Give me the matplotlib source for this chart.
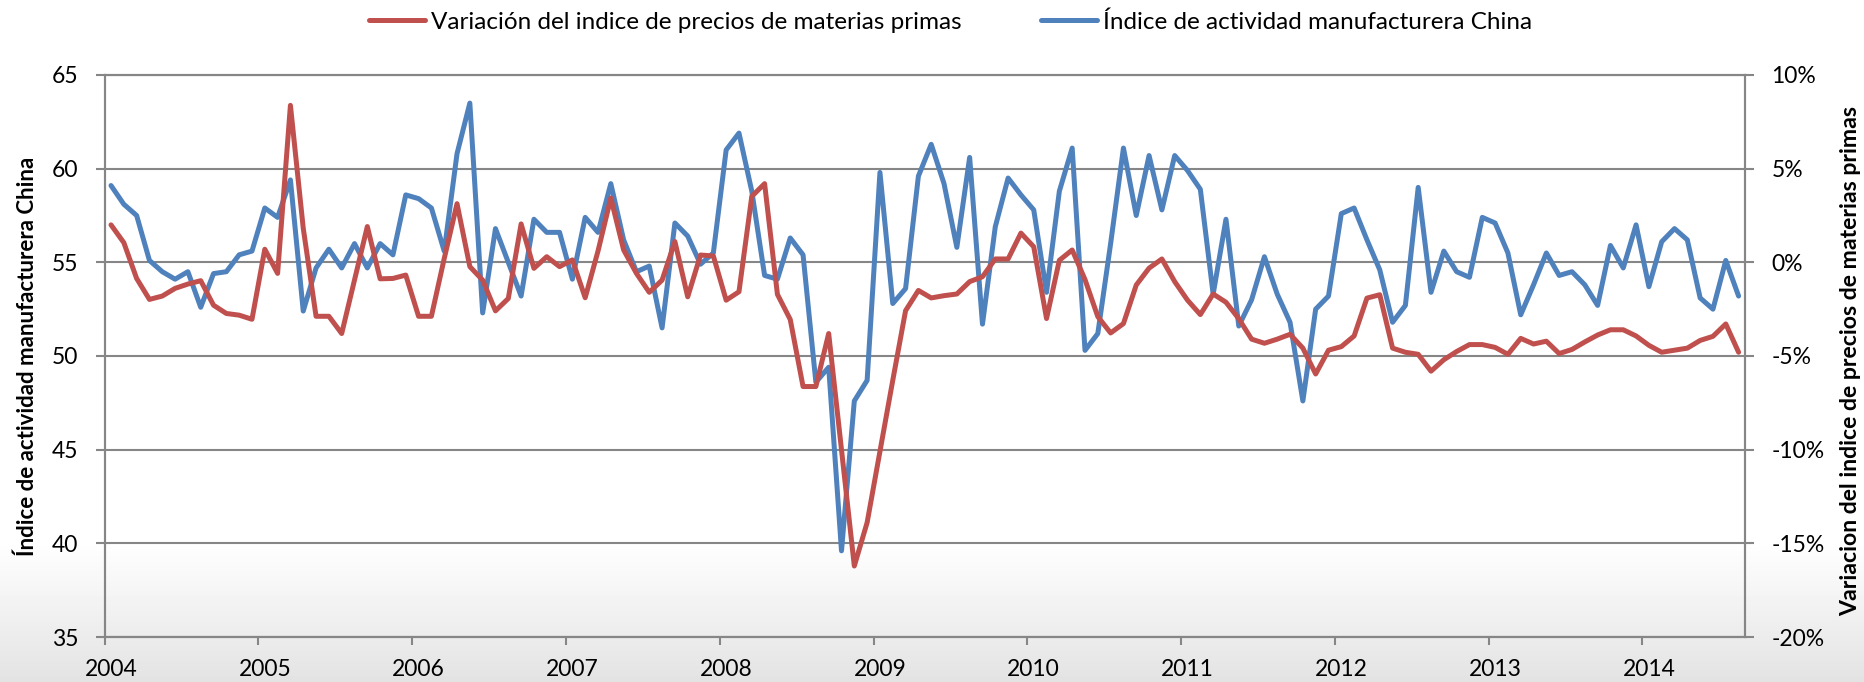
import numpy as np
import matplotlib.pyplot as plt

plt.rcParams['font.family'] = ['Lato', 'DejaVu Sans']

# datos mensuales, ene-2004 a ago-2014
years = [str(y) for y in range(2004, 2015)]

pmi_china = [
    59.1, 58.1, 57.5, 55.1, 54.5, 54.1, 54.5, 52.6, 54.4, 54.5, 55.4, 55.6,
    57.9, 57.4, 59.4, 52.4, 54.7, 55.7, 54.7, 56.0, 54.7, 56.0, 55.4, 58.6,
    58.4, 57.9, 55.6, 60.8, 63.5, 52.3, 56.8, 55.0, 53.2, 57.3, 56.6, 56.6,
    54.1, 57.4, 56.6, 59.2, 56.2, 54.5, 54.8, 51.5, 57.1, 56.4, 54.9, 55.5,
    61.0, 61.9, 58.8, 54.3, 54.1, 56.3, 55.4, 48.6, 49.4, 39.6, 47.6, 48.7,
    59.8, 52.8, 53.6, 59.6, 61.3, 59.2, 55.8, 60.6, 51.7, 56.9, 59.5, 58.6,
    57.8, 53.4, 58.8, 61.1, 50.3, 51.2, 56.0, 61.1, 57.5, 60.7, 57.8, 60.7,
    59.9, 58.9, 53.3, 57.3, 51.6, 53.0, 55.3, 53.3, 51.8, 47.6, 52.5, 53.2,
    57.6, 57.9, 56.2, 54.6, 51.8, 52.7, 59.0, 53.4, 55.6, 54.5, 54.2, 57.4,
    57.1, 55.5, 52.2, 53.8, 55.5, 54.3, 54.5, 53.8, 52.7, 55.9, 54.7, 57.0,
    53.7, 56.1, 56.8, 56.2, 53.1, 52.5, 55.1, 53.2,
]

commodity_var = [
    2.0, 1.05, -0.86, -1.98, -1.8, -1.39, -1.16, -0.98, -2.29, -2.73, -2.82, -3.04,
    0.7, -0.59, 8.38, 1.82, -2.88, -2.88, -3.8, -0.95, 1.91, -0.88, -0.86, -0.68,
    -2.88, -2.88, 0.2, 3.13, -0.23, -0.95, -2.59, -1.93, 2.05, -0.32, 0.3, -0.23,
    0.13, -1.89, 0.6, 3.43, 0.66, -0.59, -1.6, -0.95, 1.11, -1.84, 0.39, 0.34,
    -2.02, -1.57, 3.52, 4.2, -1.71, -3.05, -6.63, -6.63, -3.8, -10.0, -16.21, -13.89,
    -10.1, -6.3, -2.58, -1.5, -1.9, -1.78, -1.69, -1.03, -0.77, 0.18, 0.18, 1.56,
    0.83, -3.0, 0.11, 0.66, -0.92, -2.9, -3.77, -3.27, -1.21, -0.31, 0.18, -1.03,
    -2.02, -2.79, -1.69, -2.13, -3.01, -4.1, -4.32, -4.1, -3.84, -4.58, -5.96, -4.69,
    -4.5, -3.93, -1.91, -1.73, -4.58, -4.8, -4.91, -5.81, -5.2, -4.76, -4.39, -4.39,
    -4.54, -4.91, -4.06, -4.36, -4.21, -4.87, -4.65, -4.25, -3.88, -3.6, -3.6, -3.93,
    -4.43, -4.8, -4.69, -4.58, -4.17, -3.95, -3.29, -4.8,
]

left_ticks = [35, 40, 45, 50, 55, 60, 65]
right_ticks = [-20, -15, -10, -5, 0, 5, 10]
right_labels = ['-20%', '-15%', '-10%', '-5%', '0%', '5%', '10%']

label_red = 'Variación del indice de precios de materias primas'
label_blue = 'Índice de actividad manufacturera China'

RED = '#C0504D'
BLUE = '#4F81BD'
GRID = '#868686'

W, H = 1864, 682
fig = plt.figure(figsize=(W / 100, H / 100), dpi=100)

# fondo con degradado en la parte inferior
bg = fig.add_axes([0, 0, 1, 1], zorder=-10)
grad = np.ones((H, 1))
start = 540
grad[start:, 0] = np.linspace(1.0, 0.89, H - start)
bg.imshow(grad, cmap='gray', vmin=0, vmax=1, aspect='auto', extent=[0, 1, 0, 1])
bg.axis('off')

ax = fig.add_axes([104.6 / W, 45 / H, 1640.4 / W, 562 / H])
ax.set_facecolor('none')
ax2 = ax.twinx()

months = np.arange(len(pmi_china))
l_blue, = ax.plot(months, pmi_china, color=BLUE, lw=3.6,
                  solid_joinstyle='round', solid_capstyle='round')
l_red, = ax2.plot(months, commodity_var, color=RED, lw=3.6,
                  solid_joinstyle='round', solid_capstyle='round')

ax.set_xlim(-0.5, len(months) - 0.5)
ax.set_ylim(35, 65)
ax2.set_ylim(-20, 10)
ax.set_yticks(left_ticks)
ax2.set_yticks(right_ticks)
ax2.set_yticklabels(right_labels)

ax.set_xticks(np.arange(-0.5, len(months), 12))
ax.set_xticklabels([])
ax.set_xticks(np.arange(0, len(months), 12), minor=True)
ax.set_xticklabels(years, minor=True)

ax.yaxis.grid(True, color=GRID, lw=1.5)
ax.set_axisbelow(True)

for a in (ax, ax2):
    for s in a.spines.values():
        s.set_color(GRID)
        s.set_linewidth(1.5)

ax.tick_params(axis='y', length=6.5, width=1.5, color=GRID, pad=12.5, labelsize=16.5)
ax2.tick_params(axis='y', length=6.5, width=1.5, color=GRID, pad=12.5, labelsize=16.5)
ax.tick_params(axis='x', which='major', length=6, width=1.5, color=GRID)
ax.tick_params(axis='x', which='minor', length=0, pad=16, labelsize=16.5)

fig.text(27 / W, 1 - 356 / H, label_blue, rotation=90, ha='center', va='center',
         fontsize=16, fontweight='bold')
fig.text(1851 / W, 1 - 361 / H, 'Variacion del indice de precios de materias primas',
         rotation=90, ha='center', va='center', fontsize=16.6, fontweight='bold')

fig.legend(handles=[l_red, l_blue], labels=[label_red, label_blue],
           loc='center', bbox_to_anchor=(0.51, 0.968), ncol=2, frameon=False,
           fontsize=17.5, handlelength=2.3, handletextpad=0.25, columnspacing=3.3)

fig.savefig('out.png', dpi=100)
